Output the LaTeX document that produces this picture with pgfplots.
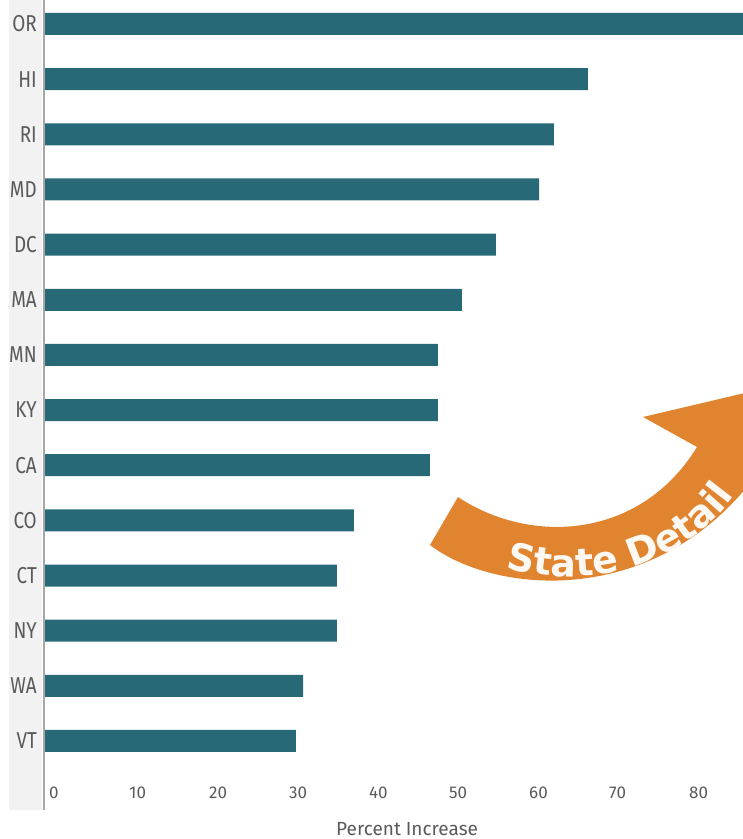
\documentclass[border=0pt]{standalone}
\usepackage{fontspec}
\setmainfont{Fira Sans}
\newfontfamily\condfont[FakeStretch=0.82]{Fira Sans}
\newfontfamily\arrowfont{DejaVu Sans}
\usepackage{pgfplots}
\pgfplotsset{compat=1.18}
\usetikzlibrary{decorations.text}
\definecolor{barc}{RGB}{40,105,120}
\definecolor{arr}{RGB}{225,132,48}
\definecolor{lab}{RGB}{90,90,90}
\definecolor{strip}{RGB}{242,242,242}
\definecolor{cream}{RGB}{253,248,242}
\begin{document}
\begin{tikzpicture}[x=1pt,y=1pt]
\useasboundingbox (0,0) rectangle (743,839);
\fill[strip] (9,29) rectangle (42,839);
\begin{axis}[at={(44pt,59pt)}, anchor=south west, scale only axis,
  width=699pt, height=780pt,
  xbar, bar width=22pt,
  xmin=0, xmax=87.375, ymin=-0.435, ymax=13.708, y dir=reverse,
  ytick={0,...,13},
  yticklabels={OR,HI,RI,MD,DC,MA,MN,KY,CA,CO,CT,NY,WA,VT},
  xtick={0,10,...,80},
  axis line style={draw=none}, major tick length=0pt,
  /pgf/number format/assume math mode=true,
  yticklabel style={font=\condfont\fontsize{23}{23}\selectfont, text=lab, inner sep=0pt, anchor=east, xshift=-7pt},
  xticklabel style={font=\fontsize{17}{17}\selectfont, text=lab, inner sep=0pt, anchor=north west, xshift=5pt, yshift=-7pt},
  xlabel={Percent Increase},
  xlabel style={font=\fontsize{19}{19}\selectfont, text=lab, inner sep=0pt, at={(rel axis cs:0.5195,0)}, anchor=north, yshift=-42pt},
]
\addplot[fill=barc, draw=none] coordinates {
(90,0) (68,1) (63.75,2) (61.9,3) (56.5,4) (52.25,5) (49.25,6)
(49.25,7) (48.25,8) (38.75,9) (36.6,10) (36.6,11) (32.4,12) (31.5,13)};
\end{axis}
\draw[gray!70, line width=1.5pt] (44,29) -- (44,839);
\begin{scope}[shift={(0,839)}, y=-1pt]
\fill[arr] (430,545) .. controls (495,595) and (660,610) .. (760,470)
  -- (800,380) -- (643,417) -- (697,447)
  .. controls (640,540) and (530,545) .. (458,497) -- cycle;
\path[decorate, decoration={text along path, text align=center, text color=cream,
  text={|\arrowfont\bfseries\fontsize{38}{38}\selectfont|State Detail}}]
  (466,552) .. controls (560,600) and (700,582) .. (756,458);
\end{scope}
\end{tikzpicture}
\end{document}
